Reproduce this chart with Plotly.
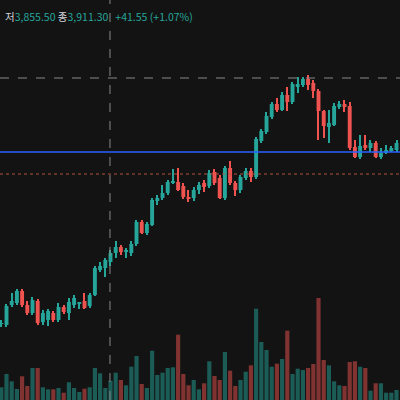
import plotly.graph_objects as go

opens = [3627,3623,3703,3711,3759,3703,3671,3719,3635,3643,3671,3643,3695,3671,3703,3707,3719,3699,3743,3843,
         3851,3875,3911,3935,3915,3911,3947,4035,3991,4023,4119,4131,4151,4191,4195,4179,4135,4131,4163,4191,
         4179,4235,4211,4131,4251,4191,4163,4211,4239,4215,4359,4395,4455,4507,4483,4543,4515,4575,4583,4607,
         4591,4559,4479,4415,4423,4495,4507,4499,4335,4295,4343,4331,4351,4295,4311,4319,4323]
highs = [3643,3707,3751,3767,3767,3719,3735,3727,3683,3687,3679,3711,3703,3731,3743,3715,3751,3751,3859,3875,
         3891,3923,3959,3943,3931,3959,4043,4043,4035,4131,4143,4183,4203,4247,4251,4191,4163,4175,4195,4203,
         4243,4247,4223,4259,4279,4199,4223,4251,4251,4375,4407,4475,4515,4531,4555,4575,4595,4615,4615,4623,
         4603,4567,4483,4483,4511,4519,4523,4515,4363,4383,4383,4363,4359,4331,4343,4339,4363]
lows = [3615,3615,3695,3703,3695,3663,3663,3623,3623,3619,3635,3635,3667,3643,3691,3687,3687,3691,3739,3835,
        3815,3859,3891,3903,3891,3899,3939,3987,3983,4019,4103,4123,4143,4187,4159,4127,4115,4119,4147,4155,
        4171,4183,4127,4123,4183,4139,4151,4203,4195,4207,4351,4387,4447,4475,4479,4479,4507,4551,4575,4563,
        4531,4363,4371,4351,4419,4487,4475,4323,4291,4287,4323,4315,4291,4287,4307,4315,4315]
closes = [3631,3699,3719,3759,3703,3671,3723,3631,3671,3679,3643,3695,3675,3715,3731,3715,3691,3743,3851,3859,
          3883,3911,3935,3915,3923,3947,4035,3991,4027,4123,4131,4151,4195,4199,4163,4135,4127,4163,4183,4175,
          4231,4191,4131,4251,4191,4163,4215,4239,4215,4367,4399,4459,4507,4483,4543,4515,4587,4587,4607,4583,
          4559,4479,4419,4431,4499,4507,4495,4331,4295,4339,4331,4351,4295,4311,4323,4331,4351]
volumes = [127,260,187,110,237,140,320,320,127,107,107,120,73,177,120,80,113,127,320,267,
           120,193,273,200,147,333,440,160,120,493,250,273,320,327,653,260,147,200,107,167,
           387,240,200,480,293,140,200,283,347,913,580,500,333,363,410,693,260,313,300,320,
           360,1020,400,347,187,147,140,380,387,333,320,93,167,167,73,73,100]

x = list(range(len(opens)))
GREEN, RED = "#26a69a", "#ef5350"
up = [c >= o for o, c in zip(opens, closes)]
col = [GREEN if u else RED for u in up]
vol_colors = ["rgba(38,166,154,0.5)" if u else "rgba(239,83,80,0.5)" for u in up]
body_base = [min(o, c) for o, c in zip(opens, closes)]
body_h = [max(abs(c - o), 3) for o, c in zip(opens, closes)]
wick_h = [h - l for h, l in zip(highs, lows)]

fig = go.Figure()
fig.add_trace(go.Bar(x=x, y=volumes, marker_color=vol_colors, marker_line_width=0,
                     yaxis="y2", width=0.8, hoverinfo="skip"))
fig.add_trace(go.Bar(x=x, y=wick_h, base=lows, marker_color=col, marker_line_width=0,
                     width=0.2, hoverinfo="skip"))
fig.add_trace(go.Bar(x=x, y=body_h, base=body_base, marker_color=col, marker_line_width=0,
                     width=0.75, hoverinfo="skip"))

fig.update_layout(
    width=400, height=400, margin=dict(l=0, r=0, t=0, b=0),
    paper_bgcolor="#131313", plot_bgcolor="#131313", showlegend=False,
    barmode="overlay",
    xaxis=dict(range=[-0.25, 76.67], visible=False),
    yaxis=dict(range=[3323, 4923], visible=False),
    yaxis2=dict(range=[0, 4000], visible=False, overlaying="y"),
    shapes=[
        dict(type="line", xref="paper", x0=0, x1=1, yref="y", y0=4315, y1=4315,
             line=dict(color="#2962ff", width=1.5)),
        dict(type="line", xref="paper", x0=0, x1=1, yref="y", y0=4227, y1=4227,
             line=dict(color="#b5503f", width=1, dash="dot")),
        dict(type="line", xref="paper", x0=0, x1=1, yref="y", y0=4611, y1=4611,
             line=dict(color="#8a8a8a", width=1, dash="dash")),
        dict(type="line", xref="x", x0=20.9, x1=20.9, yref="paper", y0=0, y1=1,
             line=dict(color="#8a8a8a", width=1, dash="dash")),
    ],
    annotations=[dict(xref="paper", yref="paper", x=0.0, y=1.0, xanchor="left", yanchor="top",
                      xshift=3, yshift=-7, showarrow=False, align="left",
                      font=dict(family="Noto Sans CJK KR", size=10.5, color="#26a69a"),
                      text="<span style='color:#d1d4dc'>저</span>3,855.50 <span style='color:#d1d4dc'>종</span>3,911.30   +41.55 (+1.07%)")],
)
fig.write_html("out.html", config={"displayModeBar": False},
               post_script="document.body.style.margin='0';")
